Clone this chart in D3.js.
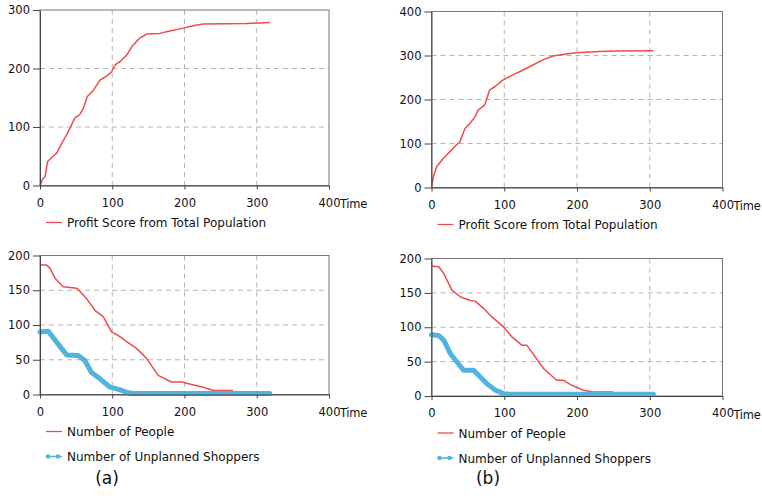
<!DOCTYPE html>
<html>
<head>
<meta charset="utf-8">
<script src="https://cdn.jsdelivr.net/npm/d3@7"></script>
<style>
  body { margin: 0; background: #fff; }
  text { font-family: "DejaVu Sans", Verdana, sans-serif; fill: #111; }
  .grid line { stroke: #b4b4b4; stroke-dasharray: 5,4; }
  .axis path, .axis line { stroke: #444; }
  .axis text { font-size: 11.5px; fill: #111; }
  .legend text { font-size: 12px; }
</style>
</head>
<body>
<script>
// time axis ticks shared by all panels
var timeTicks = [0, 100, 200, 300, 400];

// (a) profit score, [time, value]
var profitA = [[0,0],[4,12],[7,15],[10.5,41],[18,50],[23,55],[30,72],[37,87],[41.5,98],[48,115],
  [55,121],[60,132],[65.5,152],[74,163],[83,180],[92,187],[99,194],[104,206],[111,212],[120,223],
  [127,237],[138,252],[148,259],[166,260],[175,263],[198,269],[212,273],[226,276],[286,277],[318,278.5]];
// (b) profit score
var profitB = [[0,0],[2.5,24],[7,47],[16,66],[25,81],[32,93],[39,104],[46,134],[53,146],[60,161],
  [64,176],[73,187],[80,222],[87,229],[98,244],[112,256],[126,267],[140,279],[153,290],[167,299],
  [185,303.5],[199,306.5],[231,309],[250,310],[305,311]];

// (a) number of people / unplanned shoppers
var peopleA = [[0,186.5],[9,186.5],[14,181.5],[21,167],[32,155],[51,153],[64.5,138],[76,121],[87.5,112],
  [99,90],[108,85],[120,76],[134,66],[147.5,52],[163.5,27.5],[182,18],[196,18],[210,14.5],[226,10.5],
  [240,5.8],[267,5.8]];
var shoppersA = [[0,90],[11.5,91],[21,78],[30,66],[37,57],[53,56],[62,49],[71,32],[83,22.5],[97,10.5],
  [110,7],[122,2.4],[129,1.5],[318,1.5]];

// (b) number of people / unplanned shoppers
var peopleB = [[0,189],[10,188],[17,178],[28,154],[40,144],[53.5,139],[60,138],[72,127],[83,115],[99,100.5],
  [110.5,86],[124,74],[131,74],[142.5,57],[154,40],[172,23],[181,23],[193,15.5],[209,8.3],[222.5,5.8],[250,5.8]];
var shoppersB = [[0,89],[10,88],[17,81],[26,61.5],[35,49.5],[44,37.5],[58,37.5],[67,27.5],[76,18],[88,8.3],
  [99,3.4],[108,2.4],[305,2.4]];

var profitTicksA = [0, 100, 200, 300],
    profitTicksB = [0, 100, 200, 300, 400],
    peopleTicks = [0, 50, 100, 150, 200];

var red = "#f04b4d", blue = "#52b2e0";

var svg = d3.select("body").append("svg")
    .attr("width", 762)
    .attr("height", 501);

function drawPanel(opt) {
  var x = d3.scaleLinear().domain([0, 400]).range([opt.x0, opt.x1]);
  var y = d3.scaleLinear().domain([0, opt.ymax]).range([opt.y1, opt.y0]);
  var g = svg.append("g");

  // dashed grid
  var grid = g.append("g").attr("class", "grid");
  grid.selectAll(".gx").data(timeTicks.slice(1, -1)).enter().append("line")
      .attr("x1", d => x(d)).attr("x2", d => x(d))
      .attr("y1", opt.y0).attr("y2", opt.y1);
  grid.selectAll(".gy").data(opt.yticks.slice(1, -1)).enter().append("line")
      .attr("x1", opt.x0).attr("x2", opt.x1)
      .attr("y1", d => y(d)).attr("y2", d => y(d));

  // frame
  g.append("rect")
      .attr("x", opt.x0).attr("y", opt.y0)
      .attr("width", opt.x1 - opt.x0).attr("height", opt.y1 - opt.y0)
      .attr("fill", "none").attr("stroke", "#777");

  var line = d3.line().x(d => x(d[0])).y(d => y(d[1]));

  opt.series.forEach(function(s) {
    g.append("path")
        .datum(s.data)
        .attr("d", line)
        .attr("fill", "none")
        .attr("stroke", s.color)
        .attr("stroke-width", s.thick ? 5 : 1.5)
        .attr("stroke-linejoin", "round")
        .attr("stroke-linecap", s.thick ? "round" : "butt");
  });

  g.append("g").attr("class", "axis")
      .attr("transform", "translate(0," + opt.y1 + ")")
      .call(d3.axisBottom(x).tickValues(timeTicks).tickSizeInner(4).tickSizeOuter(0).tickPadding(9));
  g.append("g").attr("class", "axis")
      .attr("transform", "translate(" + opt.x0 + ",0)")
      .call(d3.axisLeft(y).tickValues(opt.yticks).tickSizeInner(7).tickSizeOuter(0).tickPadding(3));

  // "Time" right after the last tick label
  g.append("text")
      .attr("x", opt.x1 + 11).attr("y", opt.y1 + 22.5)
      .style("font-size", "11.5px")
      .style("letter-spacing", "-0.3px")
      .text("Time");

  // legend
  var lg = g.append("g").attr("class", "legend");
  opt.series.forEach(function(s, i) {
    var ly = opt.y1 + 37 + i * 25;
    lg.append("line")
        .attr("x1", opt.x0 + 6).attr("x2", opt.x0 + 22)
        .attr("y1", ly).attr("y2", ly)
        .attr("stroke", s.color).attr("stroke-width", s.thick ? 1.5 : 1.3);
    if (s.thick) {
      [opt.x0 + 8, opt.x0 + 18].forEach(function(cx) {
        lg.append("circle").attr("cx", cx).attr("cy", ly).attr("r", 2.2).attr("fill", s.color);
      });
    }
    lg.append("text")
        .attr("x", opt.x0 + 27).attr("y", ly + 4.5)
        .text(s.name);
  });
}

drawPanel({x0: 40, x1: 329, y0: 10, y1: 185.5, ymax: 300, yticks: profitTicksA,
  series: [{name: "Profit Score from Total Population", data: profitA, color: red}]});
drawPanel({x0: 431.5, x1: 722.5, y0: 11.5, y1: 187.5, ymax: 400, yticks: profitTicksB,
  series: [{name: "Profit Score from Total Population", data: profitB, color: red}]});
drawPanel({x0: 40, x1: 329, y0: 255.5, y1: 394.5, ymax: 200, yticks: peopleTicks,
  series: [{name: "Number of People", data: peopleA, color: red},
           {name: "Number of Unplanned Shoppers", data: shoppersA, color: blue, thick: true}]});
drawPanel({x0: 431.5, x1: 722.5, y0: 258.5, y1: 396, ymax: 200, yticks: peopleTicks,
  series: [{name: "Number of People", data: peopleB, color: red},
           {name: "Number of Unplanned Shoppers", data: shoppersB, color: blue, thick: true}]});

svg.selectAll(".caption").data(["(a)", "(b)"]).enter().append("text")
    .attr("x", (d, i) => i ? 488 : 107)
    .attr("y", 484)
    .attr("text-anchor", "middle")
    .style("font-size", "17px")
    .text(d => d);
</script>
</body>
</html>
